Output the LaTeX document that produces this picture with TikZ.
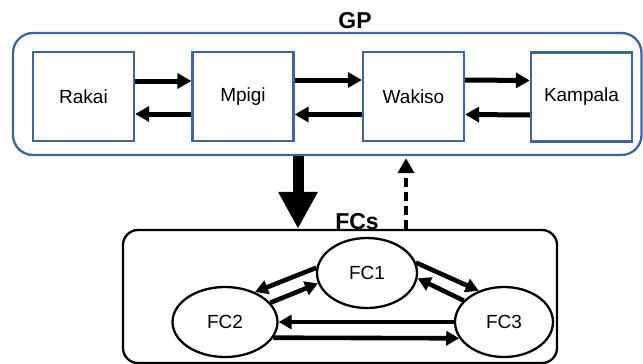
\documentclass[tikz,border=0pt]{standalone}
\usepackage{fontspec}
\setmainfont{Liberation Sans}
\usetikzlibrary{arrows.meta,shapes.geometric,calc}
\definecolor{gpblue}{HTML}{4064A2}
\begin{document}
\begin{tikzpicture}[x=1pt,y=-1pt,
  region/.style={draw=gpblue,line width=2.3pt,rounded corners=20pt,inner sep=0pt},
  town/.style={draw=gpblue,line width=2.3pt,minimum width=101pt,minimum height=89pt,inner sep=0pt,font=\fontsize{19}{21}\selectfont},
  fc/.style={draw=black,ellipse,line width=2.3pt,minimum height=70pt,inner sep=0pt,font=\fontsize{19}{21}\selectfont},
  title/.style={font=\fontsize{23}{25}\selectfont\bfseries,inner sep=0pt,anchor=base},
  flow/.style={line width=5pt,-{Triangle[length=14pt,width=15pt]}},
  fcflow/.style={line width=4.6pt,-{Triangle[length=13pt,width=14pt]}}]
\useasboundingbox (0,0) rectangle (643,364);
% GP region
\node[region,minimum width=628.5pt,minimum height=122pt] (GPbox) at (327.25,94) {};
\node[title] (GPlabel) at (355,28) {GP};
\node[town] (Rakai) at (83.5,96.5) {Rakai};
\node[town] (Mpigi) at (243,96.5) {Mpigi};
\node[town] (Wakiso) at (413.5,96.5) {Wakiso};
\node[town] (Kampala) at (581.5,97) {Kampala};
\draw[flow] ([yshift=15.5pt]Rakai.east) -- ([yshift=15.5pt]Mpigi.west);
\draw[flow] ([yshift=-17.5pt]Mpigi.west) -- ([yshift=-17.5pt]Rakai.east);
\draw[flow] ([yshift=16.5pt]Mpigi.east) -- ([yshift=16.5pt]Wakiso.west);
\draw[flow] ([yshift=-18pt]Wakiso.west) -- ([yshift=-18pt]Mpigi.east);
\draw[flow] ([yshift=16.5pt]Wakiso.east) -- ([yshift=16.5pt]Kampala.west);
\draw[flow] ([yshift=-18pt]Kampala.west) -- ([yshift=-18pt]Wakiso.east);
% FCs region
\node[draw=black,line width=2.3pt,rounded corners=15pt,minimum width=434pt,minimum height=133pt,inner sep=0pt] (FCbox) at (340,296.5) {};
\node[title] (FClabel) at (357,229) {FCs};
\node[fc,minimum width=100pt] (FC1) at (367,273) {FC1};
\node[fc,minimum width=105pt] (FC2) at (225,322) {FC2};
\node[fc,minimum width=98pt] (FC3) at (504,322) {FC3};
\draw[fcflow] (FC1.174) -- (FC2.45);
\draw[fcflow] (FC2.23) -- (FC1.192);
\draw[fcflow] (FC1.12) -- (FC3.129);
\draw[fcflow] (FC3.152) -- (FC1.354);
\draw[fcflow] (FC3.west) -- (FC2.east);
\draw[fcflow] (FC2.-18.9) -- (FC3.200.2);
% between regions
\coordinate (bx) at (298,0);
\coordinate (dx) at (406,0);
\draw[line width=11pt,-{Triangle[length=37pt,width=37pt]}] (GPbox.south -| bx) -- (FCbox.north -| bx);
\draw[line width=4.5pt,dash pattern=on 9pt off 5pt,-{Triangle[length=15pt,width=16pt]}] (FCbox.north -| dx) -- ([yshift=-2pt]GPbox.south -| dx);
\end{tikzpicture}
\end{document}
